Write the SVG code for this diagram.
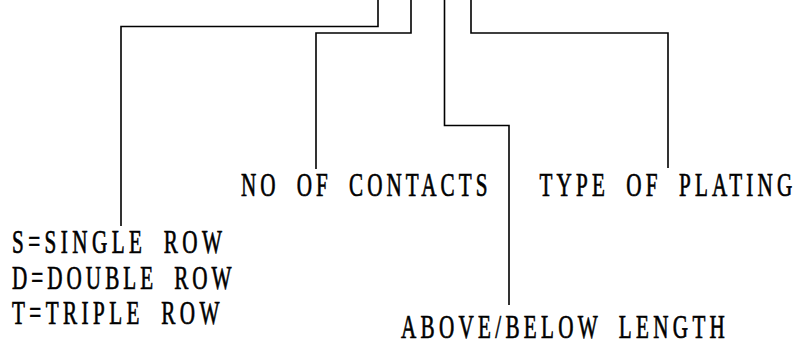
<svg xmlns="http://www.w3.org/2000/svg" width="809" height="347" viewBox="0 0 809 347">
<style>
.bg{fill:#ffffff}
.c{fill:none;stroke:#000;stroke-width:1.6;stroke-linejoin:miter}
.t{font-family:"Liberation Serif","Noto Serif CJK SC",serif;font-size:33px;fill:#000;stroke:#000;stroke-width:0.7;word-spacing:12px}
</style>
<rect class="bg" x="0" y="0" width="809" height="347"/>
<g id="connectors">
<path class="c" d="M378,0 V26.5 H121 V226"/>
<path class="c" d="M411,0 V33 H316 V169"/>
<path class="c" d="M444.5,0 V125.5 H509 V305"/>
<path class="c" d="M471,0 V33 H668 V168"/>
</g>
<g id="row-type">
<text class="t" transform="translate(12,253) scale(0.64,1)" textLength="328" lengthAdjust="spacing">S=SINGLE ROW</text>
<text class="t" transform="translate(12,288.5) scale(0.64,1)" textLength="343" lengthAdjust="spacing">D=DOUBLE ROW</text>
<text class="t" transform="translate(12,324) scale(0.64,1)" textLength="324" lengthAdjust="spacing">T=TRIPLE ROW</text>
</g>
<g id="contacts">
<text class="t" transform="translate(241,196) scale(0.64,1)" textLength="385" lengthAdjust="spacing">NO OF CONTACTS</text>
</g>
<g id="plating">
<text class="t" transform="translate(539.5,196) scale(0.64,1)" textLength="395" lengthAdjust="spacing">TYPE OF PLATING</text>
</g>
<g id="length">
<text class="t" transform="translate(401,338) scale(0.64,1)" textLength="506" lengthAdjust="spacing">ABOVE/BELOW LENGTH</text>
</g>
</svg>
